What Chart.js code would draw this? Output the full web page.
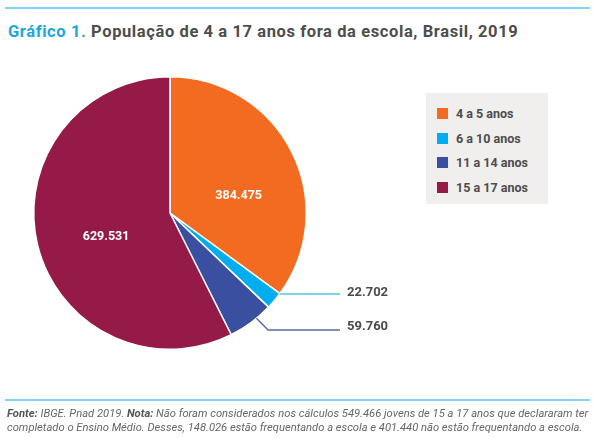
<!doctype html>
<html>
<head>
<meta charset="utf-8">
<title>Gráfico 1</title>
<script src="https://cdn.jsdelivr.net/npm/chart.js@4/dist/chart.umd.min.js"></script>
<style>
  html, body { margin: 0; padding: 0; background: #fff; }
  body { width: 597px; height: 438px; position: relative; overflow: hidden; font-family: Roboto, "Liberation Sans", sans-serif; }
  #chart { position: absolute; left: 0; top: 0; }
  .rule { position: absolute; left: 5px; width: 585px; height: 2px; background: #7fd3f3; }
  #title { position: absolute; left: 8px; top: 22px; font-size: 16.5px; font-weight: bold; color: #4d4d4d; white-space: nowrap; letter-spacing: 0.6px; }
  #title span { color: #1aa7e0; }
  #legend { position: absolute; left: 426px; top: 93px; width: 122px; height: 111px; background: #f0efee; }
  .item { position: absolute; left: 11px; font-size: 12.5px; font-weight: bold; color: #4d4d4d; white-space: nowrap; }
  .item i { display: inline-block; width: 11px; height: 11px; margin-right: 8px; vertical-align: -1px; }
  #note { position: absolute; left: 7px; top: 407px; font-size: 11.2px; font-style: italic; color: #666; line-height: 13.5px; white-space: nowrap; }
  #note b { color: #555; }
</style>
</head>
<body>
<div class="rule" style="top:7px"></div>
<div id="title"><span>Gráfico 1.</span> População de 4 a 17 anos fora da escola, Brasil, 2019</div>
<canvas id="chart" width="597" height="438"></canvas>
<div id="legend"></div>
<div class="rule" style="top:399px"></div>
<div id="note"><b>Fonte:</b> IBGE. Pnad 2019. <b>Nota:</b> Não foram considerados nos cálculos 549.466 jovens de 15 a 17 anos que declararam ter<br>completado o Ensino Médio. Desses, 148.026 estão frequentando a escola e 401.440 não estão frequentando a escola.</div>
<script>
var labels = ['4 a 5 anos', '6 a 10 anos', '11 a 14 anos', '15 a 17 anos'];
var values = [384475, 22702, 59760, 629531];
var valueText = ['384.475', '22.702', '59.760', '629.531'];
var colors = ['#f26b21', '#00aeef', '#3a4fa0', '#961a47'];

// legend box
var legend = document.getElementById('legend');
labels.forEach(function (l, i) {
  var d = document.createElement('div');
  d.className = 'item';
  d.style.top = (13 + i * 24.5) + 'px';
  d.innerHTML = '<i style="background:' + colors[i] + '"></i>' + l;
  legend.appendChild(d);
});

// labels inside slices and callouts for small slices
var sliceLabels = {
  id: 'sliceLabels',
  afterDatasetsDraw: function (chart) {
    var ctx = chart.ctx;
    var arcs = chart.getDatasetMeta(0).data;
    ctx.save();
    ctx.font = 'bold 12.5px Roboto, "Liberation Sans", sans-serif';
    ctx.textBaseline = 'middle';
    var inside = [{ i: 0, f: 0.52, da: 0.22 }, { i: 3, f: 0.5, da: -0.12 }];
    inside.forEach(function (o) {
      var a = arcs[o.i];
      var mid = (a.startAngle + a.endAngle) / 2 + o.da;
      var r = a.outerRadius * o.f;
      ctx.fillStyle = '#fff';
      ctx.textAlign = 'center';
      ctx.fillText(valueText[o.i], a.x + Math.cos(mid) * r, a.y + Math.sin(mid) * r);
    });

    ctx.lineWidth = 1.5;
    ctx.textAlign = 'left';
    var endX = 340, textX = 347;
    // 6 a 10 anos: horizontal line from the rim
    var a1 = arcs[1];
    var y1 = 294;
    var x1 = a1.x + Math.sqrt(a1.outerRadius * a1.outerRadius - (y1 - a1.y) * (y1 - a1.y));
    ctx.strokeStyle = '#4cc4f2';
    ctx.beginPath(); ctx.moveTo(x1, y1); ctx.lineTo(endX, y1); ctx.stroke();
    ctx.fillStyle = '#4a4a4a';
    ctx.font = 'bold 13px Roboto, "Liberation Sans", sans-serif';
    ctx.fillText(valueText[1], textX, y1 - 1);
    // 11 a 14 anos: elbow line
    var a2 = arcs[2];
    var m2 = (a2.startAngle + a2.endAngle) / 2 - 0.05;
    var sx = a2.x + Math.cos(m2) * a2.outerRadius, sy = a2.y + Math.sin(m2) * a2.outerRadius;
    var y2 = 330;
    ctx.strokeStyle = '#5868ad';
    ctx.beginPath(); ctx.moveTo(sx, sy); ctx.lineTo(sx + (y2 - sy), y2); ctx.lineTo(endX, y2); ctx.stroke();
    ctx.fillText(valueText[2], textX, y2 - 3);
    ctx.restore();
  }
};

new Chart(document.getElementById('chart'), {
  type: 'pie',
  data: {
    labels: labels,
    datasets: [{
      data: values,
      backgroundColor: colors,
      borderColor: '#fff',
      borderWidth: 1.5
    }]
  },
  options: {
    responsive: false,
    animation: false,
    layout: { padding: { left: 33, top: 76, right: 290, bottom: 88 } },
    plugins: { legend: { display: false }, tooltip: { enabled: false } }
  },
  plugins: [sliceLabels]
});
</script>
</body>
</html>
